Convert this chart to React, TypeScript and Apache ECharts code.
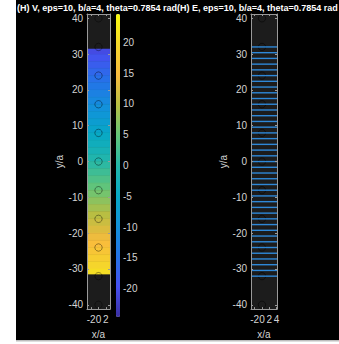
import React, { useEffect, useRef } from "react";
import * as echarts from "echarts";

// ---------- data ----------
const TITLE_V = "(H) V, eps=10, b/a=4, theta=0.7854 rad";
const TITLE_E = "(H) E, eps=10, b/a=4, theta=0.7854 rad";

// potential V sampled along y (row centres, 2 units tall)
const V_ROW_Y = [31, 29, 27, 25, 23, 21, 19, 17, 15, 13, 11, 9, 7, 5, 3, 1, -1, -3, -5, -7, -9, -11, -13, -15, -17, -19, -21, -23, -25, -27, -29, -31];
const V_VALUES = [-20.5, -19.1, -17.8, -16.5, -15.2, -13.9, -12.5, -11.2, -9.9, -8.6, -7.3, -5.9, -4.6, -3.3, -2.0, -0.7, 0.7, 2.0, 3.3, 4.6, 5.9, 7.3, 8.6, 9.9, 11.2, 12.5, 13.9, 15.2, 16.5, 17.8, 19.1, 20.5];

// empty (outside) regions in y
const BLOCK_RANGES = [[31.5, 41.2], [-41.2, -31.5]];
// inclusion circles (centres on x = 0)
const CIRCLE_Y = [40, 32, 24, 16, 8, 0, -8, -16, -24, -32, -40];
const CIRCLE_R = 1;
// E field lines (y positions)
const E_LINE_Y = [32, 30.4, 28.8, 27.2, 25.6, 24, 22.4, 20.8, 19.2, 17.6, 16, 14.4, 12.8, 11.2, 9.6, 8, 6.4, 4.8, 3.2, 1.6, 0, -1.6, -3.2, -4.8, -6.4, -8, -9.6, -11.2, -12.8, -14.4, -16, -17.6, -19.2, -20.8, -22.4, -24, -25.6, -27.2, -28.8, -30.4, -32];

const Y_RANGE = [-41.2, 41.2];
const X_RANGE_V = [-3.13, 3.13];
const X_RANGE_E = [-3.0, 4.1];
const CB_RANGE = [-24.6, 24.6];
const Y_TICKS = [-40, -30, -20, -10, 0, 10, 20, 30, 40];
const X_TICKS_V = [-2, 0, 2];
const X_TICKS_E = [-2, 0, 2, 4];
const CB_TICKS = [-20, -15, -10, -5, 0, 5, 10, 15, 20];

const PARULA = ["#3b2fa0", "#4650f0", "#2473e8", "#1291db", "#07a8c6", "#24b7a9", "#64c578", "#b8be42", "#f9bb3d", "#f4d82a", "#f9fa0e"];

const FONT = "'Liberation Sans', Arial, Helvetica, sans-serif";
const LABEL_COLOR = "#d4d4d4";
const BOX_COLOR = "#9a9a9a";
const PANEL_BG = "#1c1c1c";

function xAxes(gridIndex: number, range: number[], ticks: number[]) {
  const base = {
    gridIndex,
    type: "value",
    min: range[0],
    max: range[1],
    z: 10,
    splitLine: { show: false },
    axisLine: { show: true, onZero: false, lineStyle: { color: BOX_COLOR, width: 1 } },
    axisTick: { show: true, inside: true, length: 2, customValues: ticks, lineStyle: { color: BOX_COLOR } },
  };
  return [
    {
      ...base,
      position: "bottom",
      name: "x/a",
      nameLocation: "middle",
      nameGap: 14,
      nameTextStyle: { color: LABEL_COLOR, fontSize: 10, fontFamily: FONT },
      axisLabel: { show: true, customValues: ticks, color: LABEL_COLOR, fontSize: 10, fontFamily: FONT, margin: 5 },
    },
    { ...base, position: "top", axisLabel: { show: false } },
  ];
}

function yAxes(gridIndex: number) {
  const base = {
    gridIndex,
    type: "value",
    min: Y_RANGE[0],
    max: Y_RANGE[1],
    z: 10,
    splitLine: { show: false },
    axisLine: { show: true, onZero: false, lineStyle: { color: BOX_COLOR, width: 1 } },
    axisTick: { show: true, inside: true, length: 2, customValues: Y_TICKS, lineStyle: { color: BOX_COLOR } },
  };
  return [
    {
      ...base,
      position: "left",
      name: "y/a",
      nameLocation: "middle",
      nameGap: 10,
      nameTextStyle: { color: LABEL_COLOR, fontSize: 10, fontFamily: FONT },
      axisLabel: { show: true, customValues: Y_TICKS, color: LABEL_COLOR, fontSize: 10, fontFamily: FONT, margin: 4 },
    },
    { ...base, position: "right", axisLabel: { show: false } },
  ];
}

export default function App() {
  const ref = useRef<HTMLDivElement>(null);

  useEffect(() => {
    if (!ref.current) return;
    const chart = echarts.init(ref.current, null, { renderer: "svg" });

    const fieldData = V_ROW_Y.map((y, i) => [y, V_VALUES[i]]);

    const rowRender = (params: any, api: any) => {
      const cs = params.coordSys;
      const y = api.value(0);
      const p1 = api.coord([0, y + 1]);
      const p2 = api.coord([0, y - 1]);
      const c = api.visual("color");
      return {
        type: "rect",
        shape: { x: cs.x, y: p1[1], width: cs.width, height: p2[1] - p1[1] },
        style: { fill: c, stroke: c, lineWidth: 0.6 },
      };
    };

    const blockRender = (params: any, api: any) => {
      const cs = params.coordSys;
      const p1 = api.coord([0, api.value(1)]);
      const p2 = api.coord([0, api.value(0)]);
      return {
        type: "rect",
        shape: { x: cs.x, y: p1[1], width: cs.width, height: p2[1] - p1[1] },
        style: { fill: PANEL_BG },
      };
    };

    const circleRender = (stroke: string) => (params: any, api: any) => {
      const c = api.coord([api.value(0), api.value(1)]);
      const r = api.size([CIRCLE_R, 0])[0];
      return {
        type: "circle",
        shape: { cx: c[0], cy: c[1], r },
        style: { fill: "none", stroke, lineWidth: 0.9 },
      };
    };

    const lineRender = (params: any, api: any) => {
      const cs = params.coordSys;
      const p = api.coord([0, api.value(0)]);
      return {
        type: "line",
        shape: { x1: cs.x, y1: p[1], x2: cs.x + cs.width, y2: p[1] },
        style: { stroke: "#2e88d8", lineWidth: 1.4 },
      };
    };

    const circleData = CIRCLE_Y.map((y) => [0, y]);

    chart.setOption({
      animation: false,
      backgroundColor: "#ffffff",
      graphic: [
        { type: "rect", z: -10, shape: { x: 16, y: 0, width: 323, height: 340 }, style: { fill: "#000000" } },
        { type: "rect", z: -10, shape: { x: 16, y: 340, width: 323, height: 1.5 }, style: { fill: "#bdbdbd" } },
        {
          type: "text", z: 20, x: 17, y: 8,
          style: { text: TITLE_V, fill: "#ffffff", font: `bold 9px ${FONT}`, verticalAlign: "middle", textAlign: "left" },
        },
        {
          type: "text", z: 21, x: 177, y: 8,
          style: { text: TITLE_E, fill: "#ffffff", font: `bold 9px ${FONT}`, verticalAlign: "middle", textAlign: "left" },
        },
      ],
      grid: [
        { left: 87, top: 14, width: 23, height: 303, show: true, backgroundColor: PANEL_BG, borderWidth: 0 },
        { left: 251, top: 14, width: 26, height: 303, show: true, backgroundColor: PANEL_BG, borderWidth: 0 },
        { left: 116, top: 14, width: 4, height: 303 },
      ],
      xAxis: [
        ...xAxes(0, X_RANGE_V, X_TICKS_V),
        ...xAxes(1, X_RANGE_E, X_TICKS_E),
        { gridIndex: 2, type: "value", min: 0, max: 1, show: false },
      ],
      yAxis: [
        ...yAxes(0),
        ...yAxes(1),
        {
          gridIndex: 2,
          type: "value",
          position: "right",
          min: CB_RANGE[0],
          max: CB_RANGE[1],
          splitLine: { show: false },
          axisLine: { show: false },
          axisTick: { show: false },
          axisLabel: { show: true, customValues: CB_TICKS, color: LABEL_COLOR, fontSize: 10, fontFamily: FONT, margin: 3 },
        },
      ],
      visualMap: [
        {
          type: "continuous",
          seriesIndex: 0,
          dimension: 1,
          min: CB_RANGE[0],
          max: CB_RANGE[1],
          calculable: false,
          hoverLink: false,
          show: true,
          left: 116,
          top: 14,
          itemWidth: 4,
          itemHeight: 303,
          padding: 0,
          text: null,
          inRange: { color: PARULA },
        },
      ],
      series: [
        {
          type: "custom", xAxisIndex: 0, yAxisIndex: 0, z: 2, clip: true,
          encode: { y: 0 }, data: fieldData, renderItem: rowRender,
        },
        {
          type: "custom", xAxisIndex: 0, yAxisIndex: 0, z: 3, clip: true,
          encode: { y: [0, 1] }, data: BLOCK_RANGES, renderItem: blockRender,
        },
        {
          type: "custom", xAxisIndex: 0, yAxisIndex: 0, z: 4, clip: true,
          encode: { x: 0, y: 1 }, data: circleData, renderItem: circleRender("rgba(0,0,0,0.45)"),
        },
        {
          type: "custom", xAxisIndex: 2, yAxisIndex: 2, z: 3, clip: true,
          encode: { x: 0, y: 1 }, data: circleData, renderItem: circleRender("rgba(0,0,0,0.55)"),
        },
        {
          type: "custom", xAxisIndex: 2, yAxisIndex: 2, z: 4, clip: true,
          encode: { y: 0 }, data: E_LINE_Y.map((y) => [y]), renderItem: lineRender,
        },
      ],
    });

    return () => chart.dispose();
  }, []);

  return (
    <div
      ref={ref}
      style={{ position: "fixed", left: 0, top: 0, width: 339, height: 344 }}
    />
  );
}
